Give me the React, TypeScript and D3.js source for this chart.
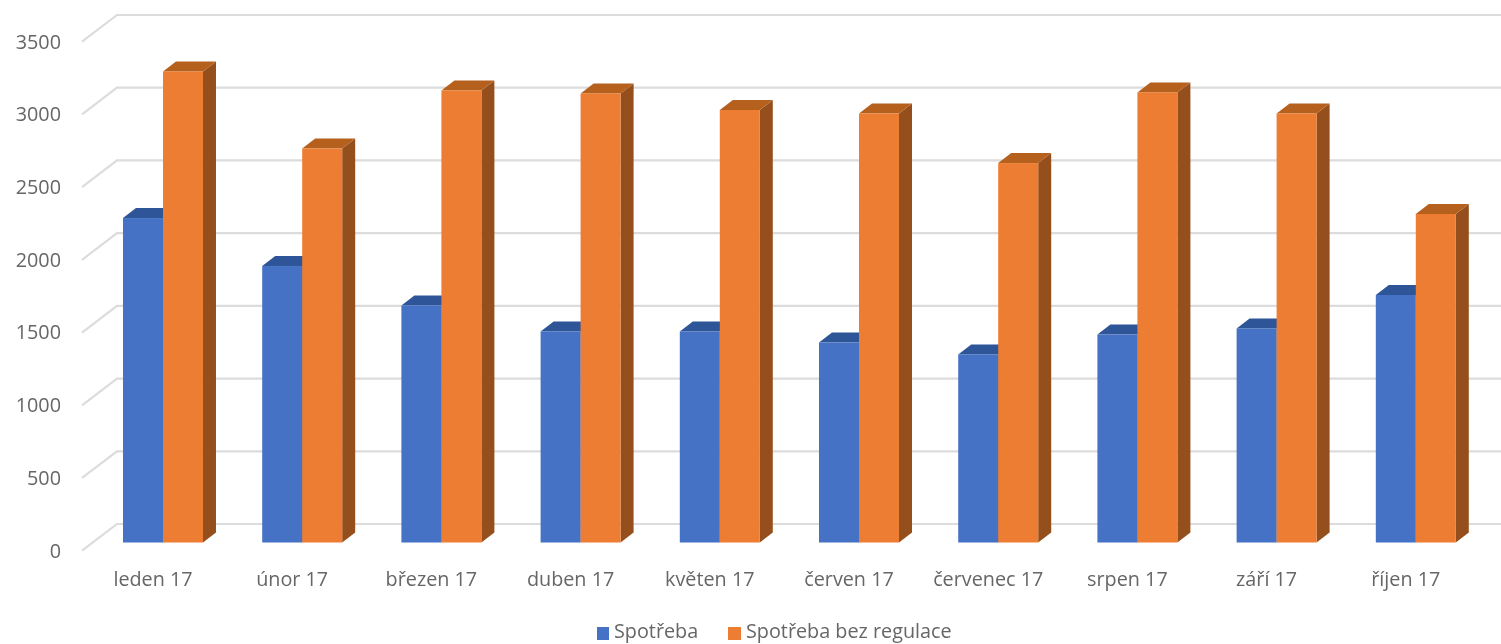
import React from "react";
import * as d3 from "d3";

const categories = ["leden 17","únor 17","březen 17","duben 17","květen 17","červen 17","červenec 17","srpen 17","září 17","říjen 17"];
const spotreba = [2231,1901,1630,1451,1451,1375,1293,1430,1472,1702];
const bezRegulace = [3239,2709,3108,3088,2974,2950,2609,3095,2950,2259];
const ticks = [0,500,1000,1500,2000,2500,3000,3500];
const seriesNames = ["Spotřeba","Spotřeba bez regulace"];

const W = 1501, H = 644;
const FONT = "'Open Sans', sans-serif";
const TEXT = "#666";

// value scale on the plane of the bars' front faces
const y = d3.scaleLinear().domain([0, 3500]).range([542.5, 33.5]);
const x = d3.scaleBand<string>().domain(categories).range([93.4, 1485.4]).paddingInner(0.4253).paddingOuter(0.2126);
const inner = d3.scaleBand<string>().domain(seriesNames).range([0, x.bandwidth()]);

const depthX = 13, depthY = 10;
const gridFrontX = 82, gridBackX = 117, gridFrontDy = 8.2, gridBackDy = -18.5;

const poly = (pts: [number, number][]) => pts.map(p => p.join(",")).join(" ");

function Bar({ x0, w, v, front, top, side }: { x0: number; w: number; v: number; front: string; top: string; side: string }) {
  const t = y(v), b = y(0), x1 = x0 + w;
  return (
    <g>
      <polygon fill={side} points={poly([[x1, t], [x1 + depthX, t - depthY], [x1 + depthX, b - depthY], [x1, b]])} />
      <polygon fill={top} points={poly([[x0, t], [x0 + depthX, t - depthY], [x1 + depthX, t - depthY], [x1, t]])} />
      <rect x={x0} y={t} width={w} height={b - t} fill={front} />
    </g>
  );
}

export default function App() {
  return (
    <svg width={W} height={H} viewBox={`0 0 ${W} ${H}`} style={{ position: "absolute", left: 0, top: 0, display: "block", background: "#fff" }}>
      <defs>
        <filter id="soft" x="-2%" y="-2%" width="104%" height="104%">
          <feGaussianBlur stdDeviation="0.75" />
        </filter>
      </defs>
      <g filter="url(#soft)">
        {ticks.map(t => (
          <polyline key={t} fill="none" stroke="#dcdcdc" strokeWidth={2.2}
            points={poly([[gridFrontX, y(t) + gridFrontDy], [gridBackX, y(t) + gridBackDy], [W, y(t) + gridBackDy]])} />
        ))}
        {categories.map((c, i) => {
          const bx = x(c)!;
          const w = inner.bandwidth();
          return (
            <g key={c}>
              <Bar x0={bx + inner(seriesNames[0])!} w={w} v={spotreba[i]} front="#4472c4" top="#2f5597" side="#2f5597" />
              <Bar x0={bx + inner(seriesNames[1])!} w={w} v={bezRegulace[i]} front="#ed7d31" top="#b5601f" side="#95501b" />
            </g>
          );
        })}
        <g fontFamily={FONT} fontSize={19.8} fill={TEXT}>
          {ticks.map(t => (
            <text key={t} x={61} y={y(t) + 15} textAnchor="end">{t}</text>
          ))}
          {categories.map(c => (
            <text key={c} x={x(c)! + x.bandwidth() / 2 - 10} y={585.5} textAnchor="middle">{c}</text>
          ))}
          <rect x={597} y={627} width={12} height={13} fill="#4472c4" />
          <text x={614} y={638}>{seriesNames[0]}</text>
          <rect x={728} y={627} width={13} height={13} fill="#ed7d31" />
          <text x={746} y={638}>{seriesNames[1]}</text>
        </g>
      </g>
    </svg>
  );
}
